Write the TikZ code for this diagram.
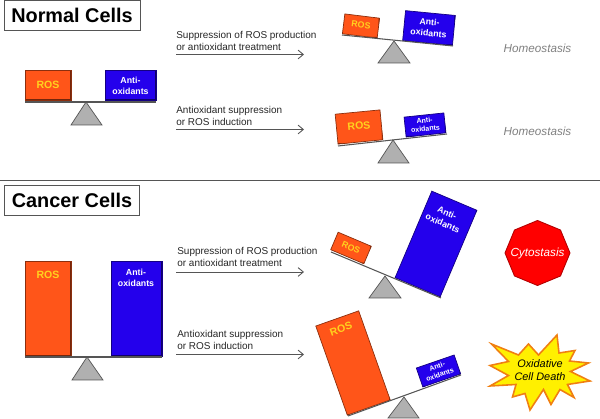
\documentclass[tikz,border=0pt]{standalone}
\usepackage{fontspec}
\setmainfont{Liberation Sans}
\usetikzlibrary{shapes.geometric, positioning, arrows.meta}
\definecolor{RosOrange}{HTML}{FF5519}
\definecolor{AntiBlue}{HTML}{2400EC}
\definecolor{RosYellow}{HTML}{FFD21E}
\definecolor{PivotGray}{HTML}{B0B0B0}
\definecolor{LineGray}{HTML}{555555}
\definecolor{StarOrange}{HTML}{F07F12}
\definecolor{StarYellow}{HTML}{FFF000}

\begin{document}
\begin{tikzpicture}[
            box/.style={draw=#1!55!black, fill=#1, inner sep=0pt, line width=0.4pt,
                path picture={\draw[#1!45!black, line width=1.2pt]
                    (path picture bounding box.south west) -- (path picture bounding box.south east) -- (path picture bounding box.north east);}},
            ros/.style={box=RosOrange},
            anti/.style={box=AntiBlue},
            rostext/.style={font=\bfseries\fontsize{6}{7}\selectfont, text=RosYellow, inner sep=0pt},
            antitext/.style={font=\bfseries\fontsize{5}{6.4}\selectfont, text=white, align=center, inner sep=0pt},
            title/.style={draw=LineGray, fill=white, font=\bfseries\fontsize{11.3}{13}\selectfont, minimum height=0.6cm, inner sep=0pt},
            beam/.style={draw=LineGray, line width=0.6pt},
            pivot/.style={draw=LineGray, fill=PivotGray, line width=0.4pt},
            arrow/.style={-{Straight Barb[length=3pt,width=5pt]}, LineGray, line width=0.5pt},
            note/.style={anchor=west, align=left, inner sep=0pt, font=\fontsize{5.67}{6.8}\selectfont, text=black!85},
            outcome/.style={font=\itshape\fontsize{6.66}{8}\selectfont}
        ]
            \useasboundingbox (0,0) rectangle (12,8.38);

            % Titles and divider
            \node[title, minimum width=2.72cm] (normal) at (1.44,8.08) {Normal Cells};
            \node[title, minimum width=2.7cm] (cancer) at (1.44,4.37) {Cancer Cells};
            \coordinate (divL) at (0,4.78);
            \coordinate (divR) at (12,4.78);
            \draw[LineGray, line width=0.45pt] (divL) -- (divR);

            % Normal cells, level
            \node[ros, minimum width=0.92cm, minimum height=0.6cm] (rosA) at (0.96,6.68) {};
            \node[anti, minimum width=1.02cm, minimum height=0.6cm] (antiA) at (2.61,6.68) {};
            \node[rostext] (rosAt) at (0.96,6.68) {ROS};
            \node[antitext] (antiAt) at (2.61,6.67) {Anti-\\oxidants};
            \draw[pivot] (1.72,6.34) -- (1.42,5.88) -- (2.04,5.88) -- cycle;
            \draw[beam] (0.5,6.34) -- (3.12,6.34);

            % Normal cells, antioxidants up
            \node[ros, rotate=-7, minimum width=0.7cm, minimum height=0.4cm] (rosB) at (7.22,7.86) {};
            \node[anti, rotate=-5.5, minimum width=1cm, minimum height=0.6cm] (antiB) at (8.58,7.82) {};
            \node[rostext, rotate=-7, font=\bfseries\fontsize{5}{6}\selectfont] (rosBt) at (7.22,7.88) {ROS};
            \node[antitext, rotate=-5.5] (antiBt) at (8.58,7.83) {Anti-\\oxidants};
            \draw[pivot] (7.88,7.56) -- (7.56,7.12) -- (8.2,7.12) -- cycle;
            \draw[beam] (6.84,7.68) -- (9.06,7.46);

            % Normal cells, ROS up
            \node[ros, rotate=5.5, minimum width=0.9cm, minimum height=0.6cm] (rosC) at (7.18,5.84) {};
            \node[anti, rotate=6, minimum width=0.8cm, minimum height=0.4cm] (antiC) at (8.5,5.88) {};
            \node[rostext, rotate=5.5] (rosCt) at (7.18,5.86) {ROS};
            \node[antitext, rotate=6, font=\bfseries\fontsize{4}{4.9}\selectfont] (antiCt) at (8.5,5.89) {Anti-\\oxidants};
            \draw[pivot] (7.86,5.58) -- (7.56,5.12) -- (8.18,5.12) -- cycle;
            \draw[beam] (6.76,5.46) -- (8.94,5.7);

            % Cancer cells, level
            \node[ros, minimum width=0.92cm, minimum height=1.9cm] (rosD) at (0.96,2.21) {};
            \node[anti, minimum width=1.02cm, minimum height=1.9cm] (antiD) at (2.73,2.21) {};
            \node[rostext] (rosDt) at (0.96,2.88) {ROS};
            \node[antitext] (antiDt) at (2.72,2.82) {Anti-\\oxidants};
            \draw[pivot] (1.74,1.24) -- (1.44,0.78) -- (2.06,0.78) -- cycle;
            \draw[beam] (0.5,1.24) -- (3.24,1.24);

            % Cancer cells, antioxidants up
            \node[ros, rotate=-23, minimum width=0.72cm, minimum height=0.38cm] (rosE) at (7.02,3.42) {};
            \node[anti, rotate=-23, minimum width=0.98cm, minimum height=1.88cm] (antiE) at (8.72,3.5) {};
            \node[rostext, rotate=-23, font=\bfseries\fontsize{5}{6}\selectfont] (rosEt) at (7.02,3.43) {ROS};
            \node[antitext, rotate=-23] (antiEt) at (8.9,4.02) {Anti-\\oxidants};
            \draw[pivot] (7.7,2.86) -- (7.38,2.42) -- (8.02,2.42) -- cycle;
            \draw[beam] (6.62,3.34) -- (8.82,2.42);

            % Cancer cells, ROS up
            \node[ros, rotate=19.5, minimum width=0.91cm, minimum height=1.89cm] (rosF) at (7.06,1.12) {};
            \node[anti, rotate=19, minimum width=0.8cm, minimum height=0.4cm] (antiF) at (8.77,0.96) {};
            \node[rostext, rotate=19.5] (rosFt) at (6.82,1.8) {ROS};
            \node[antitext, rotate=19, font=\bfseries\fontsize{4}{4.9}\selectfont] (antiFt) at (8.77,0.97) {Anti-\\oxidants};
            \draw[pivot] (8.08,0.44) -- (7.76,0.02) -- (8.38,0.02) -- cycle;
            \draw[beam] (6.96,0.06) -- (9.22,0.88);

            % Treatments
            \node[note] (noteA) at (3.52,7.56) {Suppression of ROS production\\or antioxidant treatment};
            \node[note] (noteB) at (3.52,6.07) {Antioxidant suppression\\or ROS induction};
            \node[note] (noteC) at (3.54,3.24) {Suppression of ROS production\\or antioxidant treatment};
            \node[note] (noteD) at (3.54,1.58) {Antioxidant suppression\\or ROS induction};
            \coordinate (startA) at (3.52,7.29);
            \coordinate (endA) at (6.08,7.29);
            \coordinate (startB) at (3.52,5.79);
            \coordinate (endB) at (6.08,5.79);
            \coordinate (startC) at (3.52,2.94);
            \coordinate (endC) at (6.08,2.94);
            \coordinate (startD) at (3.52,1.29);
            \coordinate (endD) at (6.08,1.29);
            \draw[arrow] (startA) -- (endA);
            \draw[arrow] (startB) -- (endB);
            \draw[arrow] (startC) -- (endC);
            \draw[arrow] (startD) -- (endD);

            % Outcomes
            \node[outcome, text=black!50] (homeoA) at (10.75,7.42) {Homeostasis};
            \node[outcome, text=black!50] (homeoB) at (10.75,5.76) {Homeostasis};
            \node[regular polygon, regular polygon sides=8, shape border rotate=22.5, minimum size=1.3cm, inner sep=0pt,
                fill=red, draw=red!70!black, line width=0.5pt] (stop) at (10.75,3.32) {};
            \node[outcome, text=white] (cyto) at (10.75,3.32) {Cytostasis};
            \draw[StarOrange, fill=StarYellow, line width=0.9pt]
                (11.14,1.68) -- (11.18,1.32) -- (11.5,1.37) -- (11.39,1.16) -- (11.77,1.12) -- (11.41,0.95)
                -- (11.8,0.76) -- (11.35,0.69) -- (11.48,0.43) -- (11.2,0.59) -- (11.02,0.29) -- (10.87,0.59)
                -- (10.6,0.18) -- (10.5,0.51) -- (10.25,0.44) -- (10.32,0.69) -- (9.8,0.66) -- (10.17,0.87)
                -- (9.8,1.07) -- (10.17,1.15) -- (9.83,1.5) -- (10.37,1.28) -- (10.57,1.5) -- (10.77,1.28) -- cycle;
            \node[outcome, text=black, align=center, font=\itshape\fontsize{6.2}{7.4}\selectfont] (death) at (10.8,0.98) {Oxidative\\Cell Death};
        \end{tikzpicture}
\end{document}
